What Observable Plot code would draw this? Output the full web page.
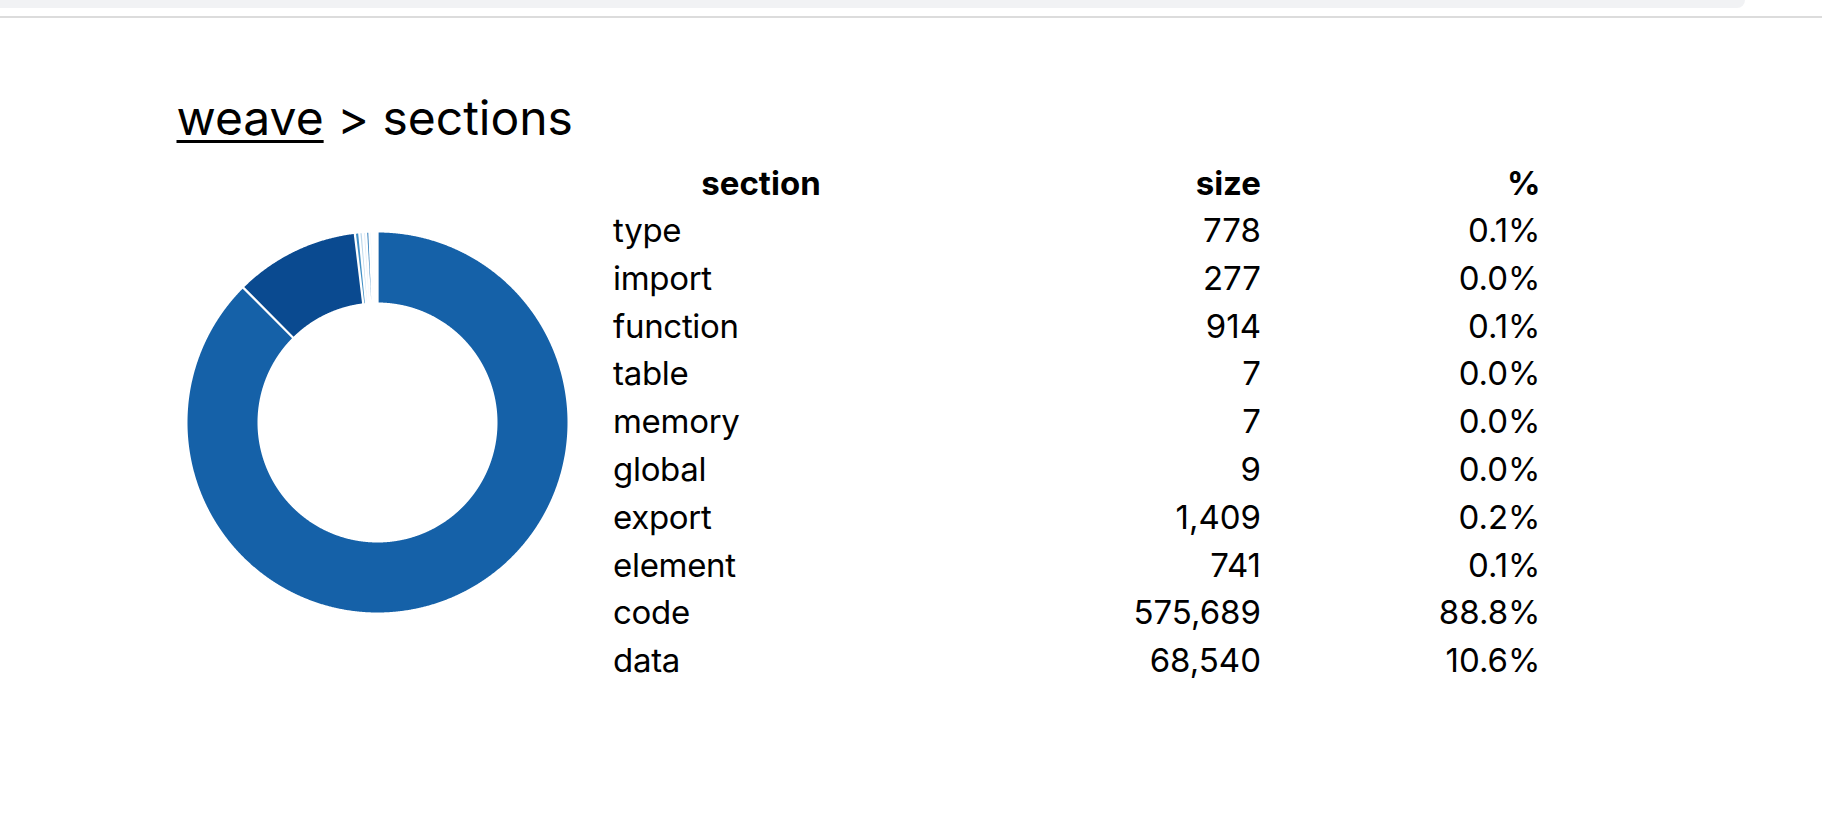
<!DOCTYPE html>
<html>
<head>
<meta charset="utf-8">
<script src="https://cdn.jsdelivr.net/npm/d3@7"></script>
<script src="https://cdn.jsdelivr.net/npm/@observablehq/plot@0.6"></script>
<style>
  html, body { margin: 0; padding: 0; background: #fff; }
  body { width: 1822px; height: 820px; position: relative; overflow: hidden; font-family: Inter, "Noto Sans", sans-serif; color: #000; }
  #topbar { position: absolute; left: 0; top: 0; width: 1745px; height: 8px; background: #f1f2f4; border-bottom-right-radius: 10px; }
  #topline { position: absolute; left: 0; top: 16px; width: 1822px; height: 2px; background: #dcdcdc; }
  #title { position: absolute; left: 176.5px; top: 88.5px; font-size: 48px; line-height: 1.2109; white-space: nowrap; }
  #title a { color: #000; text-decoration: underline; text-decoration-thickness: 3px; text-underline-offset: 5px; }
  #donut { position: absolute; left: 184.7px; top: 229.7px; }
  #tbl { position: absolute; left: 613px; top: 160px; border-collapse: collapse; font-size: 33px; }
  #tbl th, #tbl td { padding: 0; line-height: 1.2109; }
  #tbl thead tr { height: 47px; }
  #tbl tbody tr { height: 47.8px; }
  #tbl th { font-weight: 700; }
  #tbl .c1 { width: 296px; }
  #tbl .c2 { width: 352px; text-align: right; }
  #tbl .c3 { width: 279.5px; text-align: right; }
  #tbl td.c1 { text-align: left; letter-spacing: -0.3px; }
  #tbl th.c1 { text-align: center; }
</style>
</head>
<body>
<div id="topbar"></div>
<div id="topline"></div>
<div id="title"><a href="#">weave</a> &gt; sections</div>
<div id="donut"></div>
<table id="tbl"></table>
<script>
// ---- data ----
const sections = ["type", "import", "function", "table", "memory", "global", "export", "element", "code", "data"];
const sizes = [778, 277, 914, 7, 7, 9, 1409, 741, 575689, 68540];
const headers = ["section", "size", "%"];

// ---- derived ----
const rows = sections.map((s, i) => ({section: s, size: sizes[i]}));
const total = d3.sum(sizes);
const colors = d3.quantize(t => d3.interpolateBlues(t * 0.8 + 0.1), sections.length);

const R_OUT = 190, R_IN = 120, PAD = 0.01;
// pie layout (default sort: by value, descending), with pad angle like d3.arc
const arcs = d3.pie().value(d => d.size).padAngle(PAD)(rows);
const rp = Math.sqrt(R_IN * R_IN + R_OUT * R_OUT);
const pts = [];
function arcPoints(section, r, b0, b1, out) {
  const n = Math.max(2, Math.ceil(Math.abs(b1 - b0) / 0.004) + 1);
  for (let k = 0; k < n; k++) {
    const t = b0 + (b1 - b0) * k / (n - 1);
    out.push({section, x: r * Math.sin(t), y: r * Math.cos(t)});
  }
}
for (const a of arcs) {
  const a0 = a.startAngle, a1 = a.endAngle, ap = a.padAngle / 2;
  let o0 = a0, o1 = a1, i0 = a0, i1 = a1;
  const pIn = Math.asin(rp / R_IN * Math.sin(ap));
  const pOut = Math.asin(rp / R_OUT * Math.sin(ap));
  if ((a1 - a0) - 2 * pIn > 1e-12) { i0 += pIn; i1 -= pIn; } else { i0 = i1 = (a0 + a1) / 2; }
  if ((a1 - a0) - 2 * pOut > 1e-12) { o0 += pOut; o1 -= pOut; } else { o0 = o1 = (a0 + a1) / 2; }
  const s = a.data.section;
  arcPoints(s, R_OUT, o0, o1, pts);
  arcPoints(s, R_IN, i1, i0, pts);
}

const chart = Plot.plot({
  width: 384,
  height: 384,
  margin: 2,
  x: {domain: [-R_OUT, R_OUT], axis: null},
  y: {domain: [-R_OUT, R_OUT], axis: null},
  color: {domain: sections, range: colors},
  marks: [
    Plot.line(pts, {x: "x", y: "y", z: "section", fill: "section", stroke: "none", curve: "linear-closed"})
  ]
});
document.getElementById("donut").append(chart);

// ---- table ----
const fmtSize = d3.format(",");
const fmtPct = d3.format(".1%");
const tbl = d3.select("#tbl");
tbl.append("thead").append("tr").selectAll("th").data(headers).join("th")
  .attr("class", (d, i) => "c" + (i + 1)).text(d => d);
tbl.append("tbody").selectAll("tr").data(rows).join("tr")
  .selectAll("td").data(d => [d.section, fmtSize(d.size), fmtPct(d.size / total)]).join("td")
  .attr("class", (d, i) => "c" + (i + 1)).text(d => d);
</script>
</body>
</html>
